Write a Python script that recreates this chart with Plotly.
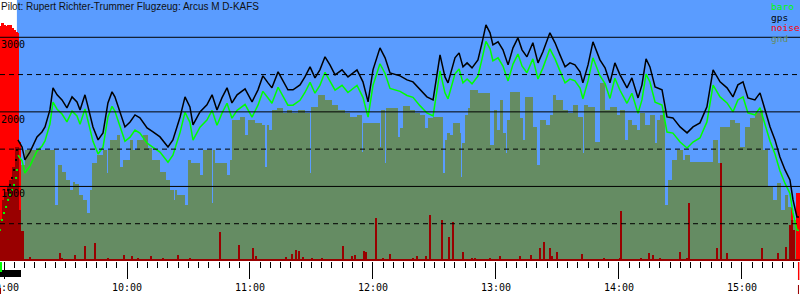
import numpy as np
import plotly.graph_objects as go

# ---------------- data ----------------
title_text = "Pilot: Rupert Richter-Trummer Flugzeug: Arcus M D-KAFS"
legend_names = ["baro", "gps", "noise", "gnd"]

# time axis: minutes after 09:00
tick_minutes = [0, 60, 120, 180, 240, 300, 360]
tick_labels = ["09:00", "10:00", "11:00", "12:00", "13:00", "14:00", "15:00"]
alt_label_values = [1000, 2000, 3000]
alt_label_text = ["1000", "2000", "3000"]
grid_solid = [1000, 2000, 3000]
grid_dashed = [500, 1500, 2500]
time_range = [-1.95, 388.3]
takeoff_time = 6.3
engine_run = [-1.95, 8.3]

# climb with engine (single fixes)
engine_gps_t = [2.0, 2.9, 3.9, 4.9, 5.9, 6.3]
engine_gps = [953, 1020, 1114, 1221, 1355, 1490]
engine_baro_t = [-2.0, -1.0, 0.0, 1.0, 2.0, 2.9, 3.9, 4.9, 5.9, 6.3]
engine_baro = [416, 550, 644, 725, 819, 886, 953, 1020, 1114, 1221]

flight_t = [6.8, 8.8, 10.2, 12.7, 16.1, 18.5, 20.0, 22.4, 23.9, 25.9, 28.3, 30.7, 33.2, 35.6,
            37.1, 39.5, 41.0, 43.4, 45.9, 48.3, 50.7, 52.7, 54.1, 56.6, 59.0, 61.5, 63.9, 66.3,
            69.8, 72.7, 76.1, 80.0, 82.4, 85.9, 88.3, 90.7, 92.2, 95.6, 99.0, 101.5, 103.9,
            106.3, 108.8, 111.2, 113.7, 117.6, 121.0, 123.9, 126.3, 128.8, 130.7, 133.7, 137.1,
            138.5, 141.0, 144.4, 146.8, 149.3, 151.7, 154.1, 156.6, 159.0, 161.5, 164.9, 167.8,
            172.2, 175.1, 177.6, 180.0, 183.4, 185.9, 188.3, 193.2, 196.6, 199.5, 203.0, 206.3,
            209.3, 211.2, 212.7, 215.1, 216.6, 220.0, 222.0, 223.9, 225.9, 228.3, 231.2, 233.2,
            235.1, 237.1, 238.5, 241.0, 243.4, 245.9, 248.3, 250.7, 252.7, 255.1, 258.0, 260.5,
            262.9, 266.3, 268.8, 271.2, 273.7, 276.1, 278.5, 281.0, 282.4, 284.9, 287.3, 290.7,
            293.2, 295.6, 298.0, 300.5, 303.9, 306.3, 309.3, 311.2, 313.2, 315.1, 317.6, 321.0,
            323.4, 326.3, 329.8, 333.2, 336.1, 339.5, 342.9, 345.9, 349.3, 352.7, 355.6, 358.0,
            360.5, 362.9, 366.3, 368.8, 371.2, 373.7, 376.1, 378.5, 381.0, 383.4, 384.9, 386.8,
            387.8]
gps = [1624, 1530, 1355, 1463, 1664, 1731, 1798, 2026, 2322, 2228, 2161, 2053, 2201, 2134,
       2026, 2228, 2067, 1798, 1624, 1718, 2120, 2268, 2201, 1986, 1798, 1865, 1959, 1919,
       1785, 1731, 1664, 1530, 1624, 1932, 2201, 2067, 1825, 2000, 2094, 2228, 2026,
       2187, 2322, 2120, 2228, 2308, 2134, 2295, 2483, 2389, 2322, 2536, 2362,
       2295, 2295, 2362, 2469, 2603, 2456, 2563, 2738, 2630, 2496, 2563, 2469,
       2563, 2402, 2134, 2563, 2858, 2724, 2523, 2483, 2429, 2402, 2295, 2201,
       2161, 2469, 2764, 2469, 2389, 2724, 2791, 2603, 2657, 2590, 2697, 2926,
       3167, 3060, 2899, 2939, 2832, 2630, 2858, 2993, 2832, 2738, 2926, 2657,
       2805, 3060, 2926, 2764, 2603, 2657, 2630, 2536, 2389, 2630, 2939, 2697,
       2590, 2389, 2657, 2496, 2322, 2456, 2187, 2362, 2711, 2603, 2335, 2295,
       1932, 1919, 1798, 1718, 1798, 1852, 2067, 2563, 2402, 2322, 2201, 2362,
       2402, 2187, 2161, 2255, 2026, 1798, 1624, 1396, 1221, 1087, 819, 590,
       590]
baro = [1420, 1345, 1180, 1275, 1475, 1540, 1610, 1835, 2130, 2035, 1970, 1865, 2010, 1945,
        1835, 2040, 1875, 1605, 1435, 1525, 1930, 2075, 2010, 1795, 1605, 1660, 1755, 1715,
        1580, 1525, 1460, 1325, 1420, 1725, 1995, 1860, 1620, 1795, 1890, 2020, 1820,
        1980, 2115, 1915, 2020, 2100, 1930, 2090, 2275, 2185, 2115, 2330, 2155,
        2090, 2090, 2155, 2260, 2395, 2250, 2355, 2530, 2420, 2290, 2355, 2260,
        2355, 2195, 1930, 2355, 2645, 2515, 2315, 2275, 2220, 2195, 2080, 1985,
        1945, 2255, 2550, 2255, 2175, 2510, 2575, 2390, 2440, 2375, 2480, 2710,
        2945, 2845, 2685, 2725, 2615, 2415, 2640, 2775, 2615, 2525, 2710, 2440,
        2590, 2845, 2710, 2550, 2390, 2440, 2415, 2320, 2175, 2415, 2725, 2485,
        2380, 2180, 2450, 2290, 2115, 2250, 1980, 2160, 2505, 2400, 2130, 2090,
        1730, 1715, 1595, 1515, 1595, 1650, 1865, 2360, 2200, 2120, 2000, 2160,
        2200, 1985, 1960, 2055, 1830, 1605, 1435, 1210, 1040, 905, 640, 415,
        410]

gnd_t = [-1.95, -0.5, 0.5, 2.0, 2.9, 4.4, 5.9, 7.3, 8.3, 10.2, 24.9, 26.3, 28.3, 30.2, 32.2,
         33.7, 34.6, 36.6, 38.5, 40.5, 42.0, 42.9, 45.4, 48.3, 50.2, 51.2, 51.7, 55.1, 56.6,
         58.0, 61.5, 62.9, 64.9, 67.8, 70.2, 72.2, 76.1, 79.0, 81.0, 82.9, 83.9, 84.4, 88.3,
         89.8, 91.2, 95.6, 97.1, 101.5, 102.4, 102.9, 108.8, 110.2, 111.2, 115.1, 117.6, 119.0,
         122.4, 125.9, 127.3, 128.3, 128.8, 130.7, 133.2, 136.1, 138.0, 140.5, 143.4, 146.8,
         149.3, 149.8, 153.2, 156.6, 160.0, 162.9, 166.3, 168.8, 172.2, 174.6, 175.1, 183.4,
         183.9, 185.9, 186.3, 192.2, 193.2, 194.6, 198.0, 200.5, 202.9, 205.4, 206.8, 209.3,
         214.1, 215.1, 216.1, 217.6, 219.0, 222.4, 222.9, 223.4, 224.9, 226.3, 227.3, 231.2,
         237.1, 239.0, 240.5, 242.0, 243.4, 244.9, 245.4, 246.8, 251.7, 253.2, 254.1, 258.0,
         260.0, 261.5, 264.4, 266.3, 267.8, 269.3, 272.7, 275.1, 277.6, 280.0, 282.4, 282.9,
         284.9, 288.3, 290.7, 293.2, 295.6, 299.0, 300.5, 302.9, 304.4, 306.3, 308.8, 310.2,
         312.7, 315.1, 317.6, 318.5, 320.0, 321.5, 322.4, 323.9, 325.9, 328.3, 331.2, 332.2,
         334.6, 345.9, 348.3, 349.3, 354.1, 356.6, 359.0, 361.5, 363.9, 366.3, 368.8, 370.2,
         372.7, 375.1, 377.1, 379.0, 381.0, 382.4, 384.4, 386.3, 388.3]
gnd = [550, 819, 926, 993, 1087, 1261, 1530, 684, 1288, 1490, 751, 1288, 1194, 1087, 953,
       1060, 1033, 886, 819, 644, 953, 1315, 1423, 1490, 1181, 1490, 1624, 1691, 1261,
       1355, 1624, 1490, 1624, 1691, 1516, 1355, 1194, 1087, 953, 819, 953, 886, 751,
       1355, 1315, 1154, 1490, 778, 1490, 1315, 1154, 1355, 1892, 1932, 1691, 1892,
       1852, 1825, 1261, 1825, 1758, 2026, 2053, 1986, 2026, 1986, 2026, 1986,
       1181, 2067, 2228, 2161, 2094, 2026, 1986, 1932, 1959, 1463, 1852, 1530,
       2026, 1315, 2053, 1664, 1785, 2080, 2026, 1986, 1959, 1785, 1919, 1932,
       1181, 1624, 1718, 1691, 1852, 1718, 1127, 1584, 1959, 2053, 2295, 2255,
       1557, 2026, 1758, 2161, 1718, 1449, 1892, 2268, 1919, 1624, 2201, 1798,
       1288, 1892, 1825, 1959, 2228, 2161, 2026, 1986, 2094, 1932, 1449, 2094,
       2067, 1597, 2389, 2026, 2067, 1959, 2026, 1624, 1892, 1825, 1758, 1986,
       1825, 1959, 1584, 1892, 1959, 2026, 751, 1087, 1355, 1490, 1355, 1423,
       1329, 1624, 1315, 1798, 1892, 1852, 1530, 1798, 1919, 1986, 2026, 1490,
       993, 819, 1047, 684, 886, 725, 550, 0, 0]

noise_t = [-2.0, -1.5, -1.0, -0.5, 0.0, 0.5, 1.0, 1.5, 2.0, 2.5, 3.0, 3.5, 4.0, 4.5, 5.0,
           5.5, 6.0, 6.5, 7.0, 7.5, 8.0, 8.5, 9.0, 9.5,
           12.7, 19.5, 27.3, 28.3, 34.6, 39.5, 44.4, 46.3, 50.7, 58.5, 62.4, 65.4, 71.7,
           77.6, 84.9, 90.7, 105.4, 114.6, 121.5, 122.9, 137.6, 140.5, 142.4, 143.9, 145.9,
           150.2, 155.1, 165.4, 169.8, 171.2, 175.6, 176.6, 181.5, 184.9, 188.3, 199.5,
           201.5, 205.9, 207.8, 213.7, 217.1, 219.0, 223.9, 226.3, 228.3, 229.8, 233.7,
           237.1, 242.0, 251.7, 257.1, 261.5, 263.4, 266.3, 267.3, 269.8, 282.0, 288.8,
           292.7, 300.5, 301.0, 310.7, 314.6, 316.6, 320.0, 329.8, 333.2, 334.1, 347.8,
           349.8, 352.7, 369.8, 377.6, 381.5, 383.4, 384.4, 385.4, 386.8, 387.3, 387.8]
noise = [3150, 3150, 3190, 3190, 3170, 3160, 3150, 2025, 3170, 3170, 3170, 3170, 3126, 3126,
         3100, 3100, 3073, 3073, 3060, 1600, 1600, 400, 400, 400,
         54, 27, 107, 40, 81, 201, 242, 27, 40, 81, 67, 40, 67,
         40, 81, 40, 389, 215, 174, 67, 54, 94, 148, 134, 54,
         40, 40, 201, 67, 81, 134, 121, 577, 40, 94, 40,
         67, 67, 617, 550, 322, 523, 121, 27, 40, 40, 27,
         40, 67, 67, 81, 174, 255, 174, 67, 121, 94, 27,
         40, 40, 671, 40, 107, 81, 40, 121, 40, 778, 174,
         1315, 107, 174, 107, 188, 483, 711, 416, 913, 913, 913]
noise_floor = 25

# ---------------- style ----------------
SKY = "#5a9cff"
GND = "#658c63"
RED = "#ff0000"
DARKRED = "#990000"
BARO = "#00ff00"
GPS = "#000000"
MONO = "DejaVu Sans Mono"
PLOT_H = 261  # px height of plotting area
W, H = 800, 300
SPIKE_W = 0.55


def py(p):
    """pixel row -> paper y"""
    return 1 - p / PLOT_H


gnd_t_arr = np.array(gnd_t)
gnd_arr = np.array(gnd)
gnd_mid = (gnd_t_arr[:-1] + gnd_t_arr[1:]) / 2
gnd_w = np.diff(gnd_t_arr)
nt = np.array(noise_t)
nv = np.array(noise)
idx = np.clip(np.searchsorted(gnd_t_arr, nt, side="right") - 1, 0, len(gnd) - 1)
noise_under = np.minimum(nv, gnd_arr[idx])

fig = go.Figure()
# all area-like marks as bars so that they stay in one (bar) layer, in this order
fig.add_trace(go.Bar(x=gnd_mid, y=gnd_arr[:-1], width=gnd_w,
                     marker=dict(color=GND, line=dict(width=0)), name="gnd", hoverinfo="skip"))
fig.add_trace(go.Bar(x=noise_t, y=noise, width=SPIKE_W, marker=dict(color=RED, line=dict(width=0)),
                     name="noise"))
fig.add_trace(go.Bar(x=noise_t, y=noise_under, width=SPIKE_W,
                     marker=dict(color=DARKRED, line=dict(width=0)), hoverinfo="skip"))
fig.add_trace(go.Bar(x=[(time_range[0] + time_range[1]) / 2], y=[noise_floor],
                     width=[time_range[1] - time_range[0]],
                     marker=dict(color=DARKRED, line=dict(width=0)), hoverinfo="skip"))
fig.add_trace(go.Scatter(x=engine_baro_t, y=engine_baro, mode="markers",
                         marker=dict(color=BARO, size=2, symbol="square", line=dict(width=0))))
fig.add_trace(go.Scatter(x=engine_gps_t, y=engine_gps, mode="markers",
                         marker=dict(color=GPS, size=2, symbol="square", line=dict(width=0))))
fig.add_trace(go.Scatter(x=flight_t, y=baro, mode="lines", line=dict(color=BARO, width=1.5), name="baro"))
fig.add_trace(go.Scatter(x=flight_t, y=gps, mode="lines", line=dict(color=GPS, width=1.5), name="gps"))

shapes = []
# pre-takeoff area is white
shapes.append(dict(type="rect", xref="x", yref="paper", x0=time_range[0] - 5, x1=takeoff_time,
                   y0=0, y1=1, fillcolor="white", line=dict(width=0), layer="below"))
for v in grid_solid:
    shapes.append(dict(type="line", xref="paper", yref="y", x0=0, x1=1, y0=v, y1=v,
                       line=dict(color="black", width=1), layer="above"))
for v in grid_dashed:
    shapes.append(dict(type="line", xref="paper", yref="y", x0=0, x1=1, y0=v, y1=v,
                       line=dict(color="black", width=1, dash="5px,4px"), layer="above"))
# engine run / takeoff / landing markers below axis
shapes.append(dict(type="rect", xref="x", yref="paper", x0=engine_run[0] - 1, x1=engine_run[1],
                   y0=py(277), y1=py(270), fillcolor="black", line=dict(width=0)))
shapes.append(dict(type="rect", xref="x", yref="paper", x0=time_range[0] - 1, x1=time_range[0] + 1.0,
                   y0=py(272), y1=py(262), fillcolor=BARO, line=dict(width=0)))
shapes.append(dict(type="rect", xref="x", yref="paper", x0=time_range[0] - 1, x1=time_range[0] + 0.5,
                   y0=py(294), y1=py(288), fillcolor=DARKRED, line=dict(width=0)))
shapes.append(dict(type="rect", xref="x", yref="paper", x0=noise_t[-2], x1=noise_t[-1] + 0.2,
                   y0=py(280), y1=py(262), fillcolor=RED, line=dict(width=0)))
shapes.append(dict(type="rect", xref="x", yref="paper", x0=noise_t[-2], x1=noise_t[-1],
                   y0=py(294), y1=py(285), fillcolor=DARKRED, line=dict(width=0)))

annotations = []
annotations.append(dict(text=title_text, xref="paper", yref="paper", x=0, y=1, xanchor="left",
                        yanchor="top", showarrow=False,
                        font=dict(family="Liberation Sans", size=10, color="#111111"), borderpad=0))
for v, t in zip(alt_label_values, alt_label_text):
    annotations.append(dict(text=t, xref="paper", yref="y", x=0, y=v, xanchor="left", yanchor="top",
                            showarrow=False, font=dict(family=MONO, size=10, color="black"),
                            borderpad=0, yshift=-1))
leg_colors = [BARO, GPS, RED, GND]
leg_rows = [6.5, 17, 27.5, 38]
for name, c, r in zip(legend_names, leg_colors, leg_rows):
    annotations.append(dict(text=name, xref="paper", yref="paper", x=770 / W, y=py(r), xanchor="left",
                            yanchor="middle", showarrow=False, font=dict(family=MONO, size=9.5, color=c),
                            borderpad=0))

fig.update_layout(
    width=W, height=H, margin=dict(l=0, r=0, t=0, b=H - PLOT_H, pad=0),
    paper_bgcolor="white", plot_bgcolor=SKY, showlegend=False, barmode="overlay", bargap=0,
    shapes=shapes, annotations=annotations,
    xaxis=dict(range=time_range, tickmode="array", tickvals=tick_minutes, ticktext=tick_labels,
               ticks="outside", ticklen=17, tickcolor="black", tickwidth=1, showgrid=False,
               zeroline=False, showline=False, automargin=False, ticklabeloverflow="allow",
               tickfont=dict(family=MONO, size=10, color="black"),
               minor=dict(tickmode="linear", tick0=0, dtick=5, ticks="outside", ticklen=6,
                          tickcolor="black", tickwidth=1, showgrid=False)),
    xaxis2=dict(range=time_range, overlaying="x", anchor="y", side="bottom", tickmode="linear",
                tick0=0, dtick=30, ticks="outside", ticklen=11, tickcolor="black", tickwidth=1,
                showticklabels=False, showgrid=False, zeroline=False, showline=False),
    yaxis=dict(range=[0, 3500], showticklabels=False, showgrid=False, zeroline=False,
               ticks="", automargin=False),
)
fig.write_html("out.html")
